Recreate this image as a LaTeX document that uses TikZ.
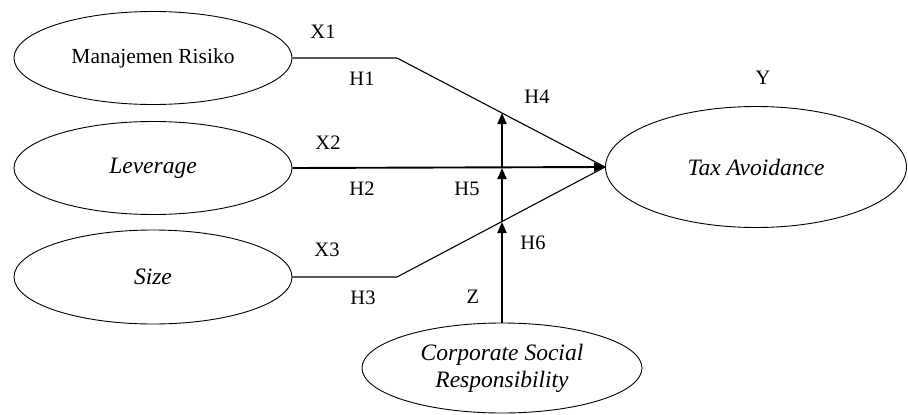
\documentclass[tikz,border=0pt]{standalone}
\usepackage{fontspec}
\setmainfont{Liberation Serif}
\usetikzlibrary{shapes.geometric,arrows.meta}
\tikzset{
  var/.style={ellipse, draw, line width=0.9pt, inner sep=0pt, align=center},
  lbl/.style={font=\fontsize{20.5}{24}\selectfont, inner sep=0pt},
  thin/.style={line width=1.1pt},
  thick/.style={line width=1.9pt},
  arr/.style={-{Triangle[length=11pt,width=9pt]}}
}
\begin{document}
\begin{tikzpicture}[x=1pt,y=-1pt]
\useasboundingbox (0,0) rectangle (908,415);
% variables
\node[var, minimum width=278pt, minimum height=93pt, font=\fontsize{21.5}{25}\selectfont] (mr) at (153,58) {Manajemen Risiko};
\node[var, minimum width=278pt, minimum height=93pt, font=\fontsize{23.5}{27}\selectfont\itshape] (lev) at (153,168) {Leverage};
\node[var, minimum width=278pt, minimum height=94pt, font=\fontsize{23.5}{27}\selectfont\itshape] (size) at (153,277) {Size};
\node[var, minimum width=301pt, minimum height=121pt, font=\fontsize{23.5}{27}\selectfont\itshape] (ta) at (756,167) {Tax Avoidance};
\node[var, minimum width=280pt, minimum height=90pt, font=\fontsize{23.5}{27}\selectfont\itshape] (csr) at (502,368) {Corporate Social\\Responsibility};
% corner and intersection points
\coordinate (c1) at (397,58);
\coordinate (c3) at (397,277);
\coordinate (p1) at (502,113);
\coordinate (p2) at (502,168);
\coordinate (p3) at (502,222);
% connectors
\draw[thin] (mr.east) -- (c1) -- (ta.west);
\draw[thin] (size.east) -- (c3) -- (ta.west);
\draw[thick, arr] (lev.east) -- (ta.west);
\draw[thick, arr] (csr.north) -- (p3);
\draw[thick, arr] (p3) -- (p2);
\draw[thick, arr] (p2) -- (p1);
% labels
\node[lbl] (x1) at (323,32) {X1};
\node[lbl] (h1) at (362,79) {H1};
\node[lbl] (x2) at (328,143) {X2};
\node[lbl] (h2) at (362,189) {H2};
\node[lbl] (h5) at (467,189) {H5};
\node[lbl] (h4) at (537,97) {H4};
\node[lbl] (h6) at (533,243) {H6};
\node[lbl] (x3) at (327,250) {X3};
\node[lbl] (h3) at (363,298) {H3};
\node[lbl] (z) at (473,297) {Z};
\node[lbl] (y) at (763,78) {Y};
\end{tikzpicture}
\end{document}
